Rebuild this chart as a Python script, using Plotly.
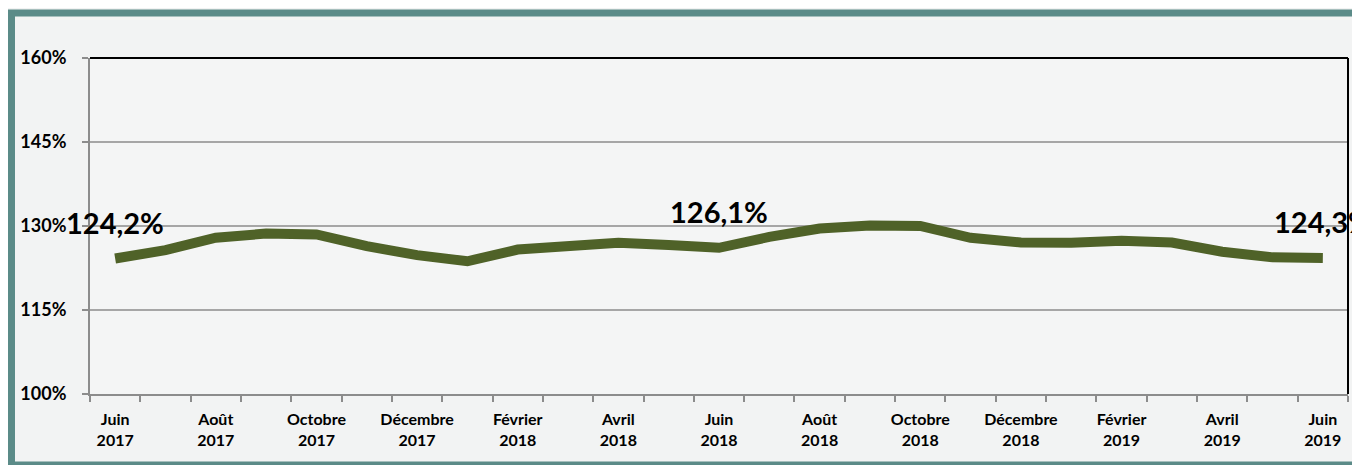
import plotly.graph_objects as go

months = ["Juin<br>2017", "Juillet<br>2017", "Août<br>2017", "Septembre<br>2017", "Octobre<br>2017",
          "Novembre<br>2017", "Décembre<br>2017", "Janvier<br>2018", "Février<br>2018", "Mars<br>2018",
          "Avril<br>2018", "Mai<br>2018", "Juin<br>2018", "Juillet<br>2018", "Août<br>2018",
          "Septembre<br>2018", "Octobre<br>2018", "Novembre<br>2018", "Décembre<br>2018", "Janvier<br>2019",
          "Février<br>2019", "Mars<br>2019", "Avril<br>2019", "Mai<br>2019", "Juin<br>2019"]
values = [124.2, 125.7, 127.9, 128.65, 128.5, 126.4, 124.8, 123.7, 125.8, 126.3,
          127.0, 126.6, 126.1, 128.05, 129.55, 130.1, 130.0, 127.9, 127.05, 127.0,
          127.35, 127.05, 125.4, 124.4, 124.3]
labelled_idx = [0, 12, 24]
label_text = ["124,2%", "126,1%", "124,3%"]
y_ticks = [100, 115, 130, 145, 160]
y_ticktext = ["100%", "115%", "130%", "145%", "160%"]

xs = list(range(len(months)))
FONT = "Lato"

# page has an 8px body margin: figure coordinates = page coordinates - 8
OFF = 8
FW, FH = 1360 - OFF, 465 - OFF

fig = go.Figure()
fig.add_trace(go.Scatter(x=xs, y=values, mode="lines",
                         line=dict(color="#4F6228", width=10, shape="linear"),
                         hoverinfo="skip", showlegend=False))

for i, t in zip(labelled_idx, label_text):
    fig.add_annotation(x=xs[i], y=values[i], text=t, showarrow=False,
                       yshift=36, font=dict(family=FONT, size=29, color="#000000", weight="bold"))

L, R, T, B = 90 - OFF, 1348 - OFF, 57.5 - OFF, 394 - OFF
W, H = R - L, B - T
def px(x): return (x - OFF - L) / W
def py(y): return (B - (y - OFF)) / H

# outer teal frame
fig.add_shape(type="rect", xref="paper", yref="paper",
              x0=px(11.5), x1=px(1366), y0=py(465), y1=py(12.5),
              line=dict(color="#5B8B88", width=7), fillcolor="rgba(0,0,0,0)", layer="below")
# black top and right border of plot area
fig.add_shape(type="line", xref="paper", yref="paper", x0=0, x1=1, y0=1, y1=1,
              line=dict(color="#000000", width=2))
fig.add_shape(type="line", xref="paper", yref="paper", x0=1, x1=1, y0=0, y1=1,
              line=dict(color="#000000", width=2))

fig.update_layout(
    width=FW, height=FH,
    margin=dict(l=L, r=FW - R, t=T, b=FH - B),
    paper_bgcolor="#F2F3F3", plot_bgcolor="#F4F5F5",
    font=dict(family=FONT, color="#000000"),
    xaxis=dict(range=[-0.5, len(months) - 0.5], tickmode="array",
               tickvals=xs[::2], ticktext=months[::2], ticks="",
               showgrid=False, zeroline=False, showline=True, linecolor="#8C8C8C", linewidth=2,
               tickfont=dict(family=FONT, size=16, weight="bold"), ticklabelstandoff=10,
               minor=dict(tickmode="array", tickvals=[i - 0.5 for i in range(len(months) + 1)],
                          ticks="outside", ticklen=6, tickcolor="#8C8C8C", tickwidth=2, showgrid=False)),
    yaxis=dict(range=[100, 160], tickmode="array", tickvals=y_ticks, ticktext=y_ticktext,
               ticks="outside", ticklen=6, tickcolor="#8C8C8C", tickwidth=2,
               showgrid=True, gridcolor="#A6A6A6", gridwidth=1.5, zeroline=False,
               showline=True, linecolor="#8C8C8C", linewidth=2,
               tickfont=dict(family=FONT, size=18, weight="bold"), ticklabelstandoff=12),
)

fig.write_html("out.html")
